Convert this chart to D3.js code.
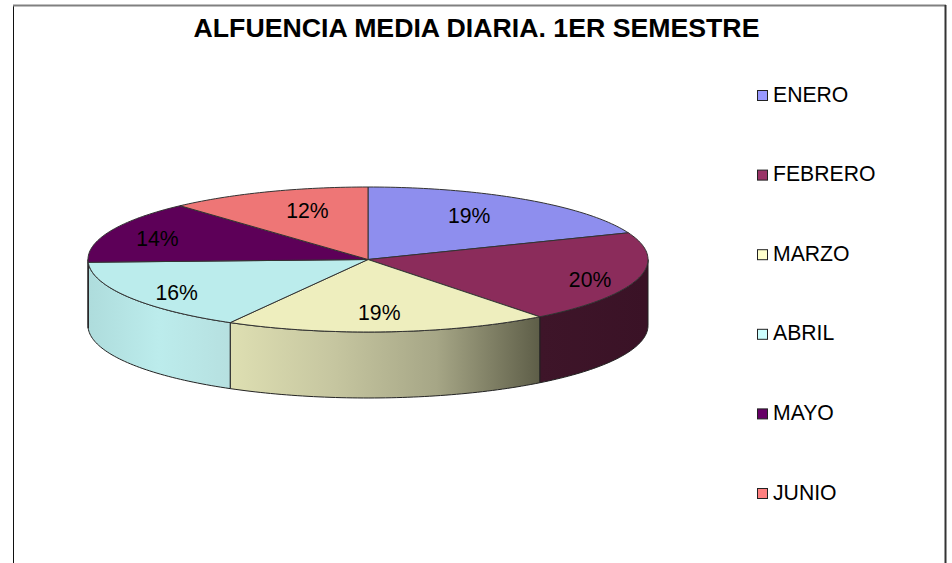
<!DOCTYPE html>
<html>
<head>
<meta charset="utf-8">
<script src="https://cdn.jsdelivr.net/npm/d3@7"></script>
<style>
  html, body { margin: 0; background: #fff; overflow: hidden; }
  svg { display: block; }
  text { font-family: "Liberation Sans", Arial, sans-serif; fill: #000; }
</style>
</head>
<body>
<svg id="chart" width="952" height="563"></svg>
<script>
const title = "ALFUENCIA MEDIA DIARIA. 1ER SEMESTRE";
const months = ["ENERO", "FEBRERO", "MARZO", "ABRIL", "MAYO", "JUNIO"];
const shares = [19.0, 20.49, 18.7, 16.2, 13.9, 11.71];
const topColors = ["#8e8eee", "#8b2c5b", "#eeeebe", "#bbecec", "#5d0058", "#ee7676"];
const legendColors = ["#9999ff", "#993366", "#ffffcc", "#ccffff", "#660066", "#ff8080"];
const wallColors = [
  ["#8e8eee", "#8e8eee"],
  ["#3e1529", "#3a1226"],
  ["#dedfb2", "#c6c6a0", "#a6a686", "#5e5e48"],
  ["#aedcdc", "#bcecec", "#b6e0e0"],
  ["#5d0058", "#5d0058"],
  ["#ee7676", "#ee7676"],
];

const svg = d3.select("#chart");
const DEPTH = 66;
const x = d3.scaleLinear().domain([-1, 1]).range([88, 648]);
const y = d3.scaleLinear().domain([-1, 1]).range([187, 332]);

// frame, cut by the bottom of the window
svg.append("line").attr("x1", 13.5).attr("x2", 13.5).attr("y1", 5).attr("y2", 563)
  .attr("stroke", "#111");
svg.append("line").attr("x1", 13).attr("x2", 946).attr("y1", 5.5).attr("y2", 5.5)
  .attr("stroke", "#808080").attr("stroke-width", 2);
svg.append("line").attr("x1", 945.5).attr("x2", 945.5).attr("y1", 5).attr("y2", 563)
  .attr("stroke", "#333").attr("stroke-width", 2);

svg.append("text")
  .attr("x", 476.5).attr("y", 37)
  .attr("text-anchor", "middle")
  .attr("font-size", 26.7)
  .attr("font-weight", "bold")
  .text(title);

const slices = d3.pie().sort(null)(shares);

/* ellipse points for an angle range, clockwise from the top */
function rim(a0, a1, dy = 0) {
  const n = Math.max(2, Math.ceil(Math.abs(a1 - a0) / 0.02));
  return d3.range(n + 1).map((i) => {
    const a = a0 + ((a1 - a0) * i) / n;
    return [x(Math.sin(a)), y(-Math.cos(a)) + dy];
  });
}

const line = d3.line();
const defs = svg.append("defs");
const walls = svg.append("g");
const tops = svg.append("g");

/* Side walls, only the front half of the pie shows them */
slices.forEach((d, i) => {
  const a0 = Math.max(d.startAngle, Math.PI / 2);
  const a1 = Math.min(d.endAngle, (3 * Math.PI) / 2);
  if (a1 <= a0) return;

  const x0 = x(Math.sin(a1));
  const x1 = x(Math.sin(a0));
  const grad = defs.append("linearGradient")
    .attr("id", "wall" + i)
    .attr("gradientUnits", "userSpaceOnUse")
    .attr("x1", x0).attr("x2", x1).attr("y1", 0).attr("y2", 0);
  wallColors[i].forEach((c, k, all) => {
    grad.append("stop").attr("offset", k / (all.length - 1)).attr("stop-color", c);
  });

  walls.append("path")
    .attr("d", line([...rim(a0, a1), ...rim(a1, a0, DEPTH)]) + "Z")
    .attr("fill", `url(#wall${i})`)
    .attr("stroke", "#222")
    .attr("stroke-width", 1);
});

/* Top face */
slices.forEach((d, i) => {
  tops.append("path")
    .attr("d", line([[x(0), y(0)], ...rim(d.startAngle, d.endAngle)]) + "Z")
    .attr("fill", topColors[i])
    .attr("stroke", "#333")
    .attr("stroke-width", 1)
    .attr("stroke-linejoin", "round");
});

/* Percent labels: radial anchor plus a small nudge per slice */
const labelRadius = 0.7;
const labelNudge = [[-9, -3], [33, 6], [-3, 2], [-24, 6], [-30, -2], [10, -2]];
const pct = d3.format(".0f");
svg.append("g")
  .selectAll("text")
  .data(slices)
  .join("text")
  .attr("text-anchor", "middle")
  .attr("font-size", 21.2)
  .attr("x", (d, i) => x(Math.sin((d.startAngle + d.endAngle) / 2) * labelRadius) + labelNudge[i][0])
  .attr("y", (d, i) => y(-Math.cos((d.startAngle + d.endAngle) / 2) * labelRadius) + labelNudge[i][1] + 8)
  .text((d) => pct(d.value) + "%");

/* Legend */
const legendY = d3.scalePoint().domain(months).range([95, 493]);
const legend = svg.append("g")
  .selectAll("g")
  .data(months)
  .join("g")
  .attr("transform", (d) => `translate(757,${legendY(d)})`);
legend.append("rect")
  .attr("x", 0.5).attr("y", -4.5)
  .attr("width", 10).attr("height", 10)
  .attr("fill", (d, i) => legendColors[i])
  .attr("stroke", "#222");
legend.append("text")
  .attr("x", 16).attr("y", 6.5)
  .attr("font-size", 21.2)
  .text((d) => d);
</script>
</body>
</html>
